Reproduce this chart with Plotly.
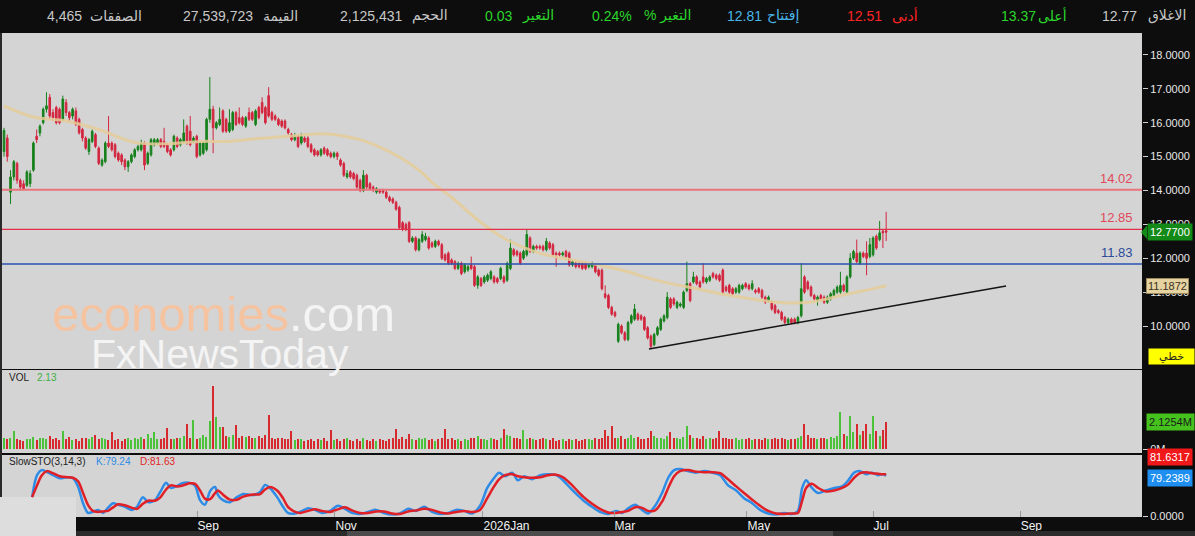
import plotly.graph_objects as go

# ---------------- data ----------------
opens = [
    15.15, 15.55, 13.95, 14.4, 14.8, 14.3, 14.2, 14.15, 14.2, 14.6,
    15.6, 15.7, 16.0, 16.4, 16.75, 16.3, 16.45, 16.4, 16.1, 16.6,
    16.3, 16.2, 16.35, 16.1, 15.8, 15.55, 15.15, 15.45, 15.65, 15.25,
    14.75, 14.85, 15.4, 15.4, 15.35, 15.1, 15.05, 14.9, 14.7, 14.85,
    15.0, 15.2, 15.2, 15.4, 14.8, 15.05, 15.35, 15.4, 15.5, 15.45,
    15.35, 15.2, 15.2, 15.55, 15.35, 15.45, 15.9, 15.75, 15.45, 15.6,
    15.05, 15.1, 15.2, 16.1, 16.4, 15.85, 15.95, 16.35, 16.1, 15.75,
    15.8, 16.3, 16.15, 16.15, 15.9, 16.3, 16.3, 15.95, 16.45, 16.6,
    16.45, 16.8, 16.3, 16.2, 16.1, 16.05, 16.05, 15.8, 15.65, 15.5,
    15.6, 15.4, 15.55, 15.55, 15.35, 15.2, 15.15, 15.05, 15.25, 15.2,
    15.1, 15.0, 15.1, 14.9, 14.8, 14.4, 14.55, 14.5, 14.45, 14.3,
    14.0, 14.45, 14.2, 14.1, 13.95, 14.0, 14.0, 13.95, 13.8, 13.75,
    13.65, 13.5, 13.05, 13.0, 13.05, 12.5, 12.6, 12.25, 12.5, 12.55,
    12.6, 12.45, 12.35, 12.5, 12.4, 12.1, 12.15, 11.95, 11.9, 11.7,
    11.85, 11.6, 11.65, 11.8, 11.75, 11.2, 11.4, 11.3, 11.35, 11.4,
    11.45, 11.4, 11.4, 11.45, 11.35, 11.7, 12.25, 12.2, 12.15, 12.0,
    12.1, 12.6, 12.2, 12.35, 12.35, 12.35, 12.25, 12.45, 12.4, 12.15,
    12.15, 12.1, 12.2, 12.15, 11.8, 11.85, 11.85, 11.85, 11.85, 11.75,
    11.75, 11.8, 11.65, 11.65, 10.95, 10.9, 10.55, 10.4, 9.55, 10.0,
    9.8, 9.6, 10.1, 10.2, 10.35, 10.3, 10.25, 9.95, 9.7, 9.45,
    9.75, 9.9, 10.15, 10.25, 10.8, 10.8, 10.55, 10.6, 10.55, 11.05,
    11.25, 11.3, 11.45, 11.3, 11.45, 11.3, 11.35, 11.55, 11.5, 11.5,
    11.65, 11.15, 11.2, 11.1, 11.0, 11.0, 11.1, 11.25, 11.2, 11.1,
    11.05, 11.1, 11.05, 10.85, 10.75, 10.7, 10.6, 10.45, 10.4, 10.25,
    10.1, 10.2, 10.2, 10.1, 10.3, 11.45, 11.3, 11.15, 10.9, 10.75,
    10.9, 10.85, 10.7, 10.8, 10.9, 11.0, 11.0, 11.2, 11.0, 11.45,
    12.0, 12.15, 11.85, 12.15, 12.15, 12.05, 12.1, 12.65, 12.55, 12.8,
    12.81,
]
highs = [
    15.85, 15.65, 14.6, 14.9, 14.85, 14.35, 14.3, 14.6, 14.6, 15.45,
    15.8, 15.95, 16.45, 16.9, 16.85, 16.4, 16.5, 16.45, 16.8, 16.7,
    16.35, 16.45, 16.45, 16.15, 15.85, 15.6, 15.55, 15.8, 15.7, 15.3,
    14.95, 15.45, 16.2, 15.45, 15.4, 15.15, 15.1, 14.95, 14.9, 15.1,
    15.25, 15.35, 15.5, 15.45, 15.15, 15.55, 15.55, 15.55, 15.55, 15.85,
    15.4, 15.25, 15.65, 15.6, 15.55, 16.1, 15.95, 16.2, 15.6, 15.65,
    15.45, 15.45, 16.15, 17.35, 16.5, 16.05, 16.45, 16.4, 16.15, 16.4,
    16.35, 16.35, 16.45, 16.2, 16.2, 16.45, 16.35, 16.4, 16.5, 16.75,
    16.5, 17.05, 16.35, 16.25, 16.15, 16.1, 16.1, 15.85, 15.7, 15.7,
    15.65, 15.7, 15.6, 15.6, 15.4, 15.25, 15.2, 15.25, 15.3, 15.25,
    15.15, 15.15, 15.15, 14.95, 14.85, 14.6, 14.6, 14.55, 14.5, 14.35,
    14.6, 14.5, 14.25, 14.15, 14.1, 14.05, 14.05, 14.0, 13.85, 13.8,
    13.7, 13.55, 13.1, 13.05, 13.1, 12.65, 12.65, 12.6, 12.8, 12.75,
    12.65, 12.5, 12.55, 12.55, 12.45, 12.15, 12.2, 12.0, 11.95, 11.9,
    11.9, 11.85, 11.8, 12.05, 11.8, 11.5, 11.45, 11.5, 11.55, 11.65,
    11.5, 11.45, 11.75, 11.5, 11.9, 12.55, 12.3, 12.25, 12.2, 12.25,
    12.85, 12.65, 12.4, 12.4, 12.4, 12.4, 12.6, 12.5, 12.45, 12.2,
    12.2, 12.2, 12.25, 12.2, 11.95, 11.9, 11.9, 11.9, 11.9, 11.85,
    11.9, 11.85, 11.7, 11.7, 11.2, 10.95, 10.6, 10.45, 10.1, 10.05,
    9.85, 10.15, 10.35, 10.65, 10.4, 10.35, 10.3, 10.0, 9.75, 9.8,
    10.0, 10.25, 10.35, 11.0, 10.85, 10.85, 10.75, 10.7, 11.05, 11.9,
    11.3, 11.6, 11.5, 11.35, 11.85, 11.45, 11.5, 11.6, 11.55, 11.55,
    11.7, 11.2, 11.25, 11.15, 11.15, 11.25, 11.25, 11.3, 11.25, 11.35,
    11.1, 11.15, 11.1, 10.9, 10.9, 10.75, 10.65, 10.5, 10.45, 10.3,
    10.25, 10.25, 10.25, 10.3, 11.85, 11.5, 11.35, 11.2, 10.95, 10.9,
    10.95, 10.9, 10.9, 11.0, 11.1, 11.2, 11.6, 11.25, 11.5, 12.15,
    12.25, 12.55, 12.2, 12.2, 12.5, 12.6, 12.65, 12.7, 13.1, 12.85,
    13.37,
]
lows = [
    15.0, 14.85, 13.6, 14.3, 14.2, 14.0, 14.0, 14.1, 14.1, 14.55,
    15.4, 15.6, 15.95, 16.3, 16.1, 16.05, 15.95, 15.95, 16.05, 16.2,
    16.05, 16.1, 15.9, 15.65, 15.45, 15.2, 15.05, 15.4, 15.25, 14.75,
    14.7, 14.8, 15.25, 15.15, 14.95, 14.85, 14.75, 14.6, 14.55, 14.8,
    14.95, 15.15, 15.15, 14.6, 14.75, 15.0, 15.3, 15.35, 15.25, 15.25,
    15.1, 15.0, 15.15, 15.25, 15.3, 15.4, 15.35, 15.3, 15.4, 14.95,
    15.0, 15.05, 15.15, 16.0, 15.1, 15.8, 15.9, 15.7, 15.7, 15.7,
    15.75, 15.9, 15.95, 15.9, 15.85, 16.05, 16.05, 15.9, 16.1, 16.25,
    15.95, 16.15, 16.05, 16.05, 15.9, 15.85, 15.8, 15.65, 15.45, 15.45,
    15.25, 15.35, 15.4, 15.25, 15.1, 15.0, 15.0, 15.0, 15.05, 15.0,
    14.95, 14.95, 14.9, 14.7, 14.4, 14.35, 14.35, 14.3, 14.05, 13.95,
    13.95, 14.05, 14.0, 13.95, 13.9, 13.9, 13.9, 13.75, 13.65, 13.6,
    13.4, 12.85, 12.8, 12.8, 12.45, 12.45, 12.2, 12.2, 12.45, 12.5,
    12.25, 12.3, 12.3, 12.35, 11.95, 11.9, 11.8, 11.8, 11.65, 11.65,
    11.5, 11.55, 11.6, 11.65, 11.15, 11.1, 11.15, 11.25, 11.3, 11.35,
    11.25, 11.25, 11.35, 11.25, 11.3, 11.65, 12.05, 12.05, 11.8, 11.95,
    12.05, 12.15, 12.15, 12.25, 12.25, 12.2, 12.2, 12.25, 12.05, 11.75,
    12.05, 12.05, 12.0, 11.75, 11.75, 11.7, 11.7, 11.65, 11.65, 11.7,
    11.7, 11.55, 11.45, 11.05, 10.8, 10.5, 10.3, 10.25, 9.5, 9.75,
    9.55, 9.55, 10.05, 10.15, 10.15, 10.15, 9.85, 9.6, 9.35, 9.4,
    9.7, 9.85, 10.1, 10.2, 10.5, 10.6, 10.5, 10.55, 10.5, 11.0,
    10.7, 11.25, 11.2, 11.1, 11.25, 11.25, 11.3, 11.4, 11.35, 11.3,
    10.95, 11.0, 10.95, 10.9, 10.95, 10.95, 11.05, 11.1, 11.05, 11.05,
    10.95, 10.95, 10.8, 10.65, 10.7, 10.45, 10.35, 10.35, 10.15, 10.05,
    10.05, 10.05, 10.05, 10.05, 10.25, 10.95, 11.05, 10.85, 10.75, 10.6,
    10.75, 10.65, 10.65, 10.75, 10.85, 10.95, 10.95, 11.0, 10.95, 11.4,
    11.95, 11.85, 11.8, 12.0, 11.5, 12.0, 12.05, 12.25, 12.5, 12.3,
    12.51,
]
closes = [
    15.77, 15.0, 14.4, 14.85, 14.3, 14.1, 14.05, 14.55, 14.5, 15.4,
    15.5, 15.9, 16.4, 16.5, 16.2, 16.15, 16.0, 16.0, 16.7, 16.3,
    16.15, 16.4, 15.95, 15.7, 15.55, 15.25, 15.5, 15.75, 15.3, 14.8,
    14.9, 15.4, 15.3, 15.2, 15.0, 14.9, 14.85, 14.7, 14.85, 15.05,
    15.2, 15.3, 15.4, 14.75, 15.1, 15.5, 15.5, 15.5, 15.3, 15.3,
    15.15, 15.05, 15.6, 15.3, 15.5, 15.7, 15.4, 15.35, 15.55, 15.0,
    15.4, 15.4, 16.1, 16.4, 15.85, 16.0, 16.1, 15.75, 15.75, 16.0,
    16.3, 15.95, 16.0, 15.95, 16.15, 16.1, 16.1, 16.35, 16.15, 16.3,
    16.0, 16.2, 16.1, 16.1, 15.95, 15.9, 15.85, 15.7, 15.5, 15.6,
    15.3, 15.6, 15.45, 15.3, 15.15, 15.05, 15.05, 15.2, 15.1, 15.05,
    15.0, 15.1, 15.0, 14.75, 14.45, 14.5, 14.4, 14.35, 14.1, 14.0,
    14.45, 14.1, 14.05, 14.05, 14.05, 13.95, 13.95, 13.8, 13.7, 13.65,
    13.45, 12.9, 12.85, 12.85, 12.5, 12.6, 12.25, 12.55, 12.7, 12.65,
    12.3, 12.35, 12.5, 12.4, 12.0, 11.95, 11.85, 11.85, 11.7, 11.85,
    11.55, 11.8, 11.75, 11.7, 11.2, 11.45, 11.2, 11.45, 11.5, 11.6,
    11.3, 11.3, 11.7, 11.3, 11.85, 12.3, 12.1, 12.1, 11.85, 12.2,
    12.7, 12.2, 12.35, 12.3, 12.3, 12.25, 12.5, 12.3, 12.1, 12.1,
    12.1, 12.15, 12.05, 11.8, 11.9, 11.75, 11.75, 11.7, 11.7, 11.8,
    11.85, 11.6, 11.5, 11.1, 10.85, 10.55, 10.35, 10.3, 10.05, 9.8,
    9.6, 10.1, 10.3, 10.5, 10.2, 10.2, 9.9, 9.65, 9.4, 9.75,
    9.95, 10.2, 10.3, 10.85, 10.55, 10.65, 10.7, 10.65, 11.0, 11.25,
    10.75, 11.45, 11.25, 11.15, 11.3, 11.4, 11.45, 11.45, 11.4, 11.35,
    11.0, 11.05, 11.0, 10.95, 11.1, 11.2, 11.2, 11.15, 11.1, 11.25,
    11.0, 11.0, 10.85, 10.7, 10.85, 10.5, 10.4, 10.4, 10.2, 10.1,
    10.2, 10.1, 10.1, 10.25, 11.1, 11.0, 11.1, 10.9, 10.8, 10.85,
    10.8, 10.7, 10.85, 10.95, 11.05, 11.15, 11.2, 11.05, 11.45, 12.0,
    12.2, 11.9, 12.15, 12.05, 12.0, 12.4, 12.6, 12.3, 12.75, 12.75,
    12.77,
]
volume_m = [
    0.85, 0.75, 0.9, 1.4, 0.8, 0.7, 0.65, 0.75, 0.8, 0.95,
    0.7, 0.85, 0.9, 0.75, 1.0, 0.8, 0.85, 0.7, 1.4, 0.75,
    0.95, 0.7, 0.8, 0.65, 0.9, 0.85, 0.75, 0.95, 1.1, 0.8,
    0.9, 0.75, 0.7, 1.35, 0.7, 0.8, 0.65, 0.75, 0.9, 0.7,
    0.85, 0.8, 0.95, 0.75, 1.2, 0.85, 1.35, 0.75, 0.8, 0.9,
    1.65, 0.8, 0.75, 0.85, 0.9, 1.0, 1.95, 0.85, 2.25, 0.8,
    0.9, 1.1, 0.95, 2.2, 5.0, 2.5, 1.7, 1.7, 1.0, 0.95,
    1.1, 1.9, 0.9, 1.0, 0.95, 1.05, 0.9, 0.85, 1.0, 0.9,
    1.1, 2.7, 0.9, 0.8, 0.85, 0.9, 0.75, 0.8, 1.4, 0.7,
    0.8, 0.75, 0.65, 0.7, 0.8, 0.6, 0.75, 0.7, 0.85, 0.65,
    1.5, 0.7, 0.8, 0.65, 0.75, 0.9, 0.7, 0.6, 0.75, 0.65,
    0.85, 0.7, 0.6, 0.75, 0.65, 0.8, 0.7, 0.6, 0.75, 0.85,
    1.6, 0.8, 0.95, 0.75, 1.2, 0.8, 0.7, 0.9, 0.75, 0.85,
    0.7, 0.8, 0.65, 0.75, 0.9, 1.6, 0.75, 0.85, 0.7, 0.8,
    0.65, 0.75, 0.7, 0.85, 0.9, 1.0, 0.75, 0.8, 0.7, 0.85,
    0.75, 0.7, 0.9, 1.6, 1.1, 1.0, 0.85, 0.9, 0.75, 1.5,
    0.8, 0.85, 0.75, 0.7, 0.8, 0.9, 0.75, 0.7, 0.85, 0.65,
    0.7, 0.75, 0.65, 0.8, 0.7, 0.75, 0.65, 0.7, 0.8, 0.75,
    0.7, 0.85, 0.8, 0.9, 1.5, 1.0, 1.85, 0.9, 0.85, 1.0,
    0.8, 0.9, 1.1, 0.85, 0.95, 0.75, 0.8, 0.9, 1.4, 1.0,
    0.85, 0.9, 0.8, 1.0, 1.3, 0.9, 0.85, 0.8, 0.95, 1.85,
    1.1, 0.9, 0.85, 0.8, 1.0, 0.75, 0.85, 0.8, 0.9, 1.4,
    0.9, 0.85, 0.8, 0.75, 0.85, 0.7, 0.8, 0.75, 0.85, 0.7,
    0.75, 0.8, 0.7, 0.85, 0.75, 0.8, 0.9, 0.75, 0.85, 0.8,
    0.7, 0.75, 0.8, 0.9, 1.0, 2.0, 1.1, 0.9, 0.85, 0.8,
    0.9, 0.85, 0.8, 0.95, 0.9, 1.0, 2.9, 1.2, 1.0, 2.6,
    1.3, 1.95, 1.1, 1.4, 2.0, 1.2, 2.6, 1.4, 1.0, 1.5,
    2.1254,
]

# 50-day moving average (read at sample candles)
ma_idx = [0, 9, 19, 29, 40, 50, 60, 69, 76, 87, 95, 102, 109, 115, 121, 127, 132,
          137, 145, 154, 164, 174, 182, 191, 197, 204, 211, 221, 231, 240, 247, 257, 264, 270]
ma_val = [16.5, 16.17, 16.05, 15.8, 15.42, 15.38, 15.45, 15.45, 15.52, 15.6, 15.67, 15.64,
          15.5, 15.28, 14.99, 14.6, 14.16, 13.8, 13.13, 12.54, 12.15, 11.95, 11.8, 11.6,
          11.42, 11.25, 11.12, 10.92, 10.77, 10.68, 10.71, 10.92, 11.06, 11.1872]

# Slow stochastic (3,14,3)
sto_idx = [8.6, 10.1, 11.6, 13.2, 15.0, 17.1, 19.3, 21.1, 22.7, 24.2,
           25.7, 27.2, 28.8, 30.3, 31.8, 33.4, 34.9, 37.0, 39.2, 40.7,
           42.5, 44.1, 46.2, 47.8, 49.6, 51.1, 53.0, 54.8, 56.9, 58.5,
           60.0, 61.5, 63.1, 64.6, 65.5, 67.0, 69.2, 71.3, 73.2, 76.2,
           78.4, 79.9, 81.4, 83.6, 85.4, 86.9, 89.1, 90.6, 93.1, 95.2,
           97.3, 99.8, 102.2, 104.4, 106.5, 109.0, 111.4, 113.9, 116.3, 118.8,
           121.2, 123.7, 126.1, 128.6, 131.0, 133.5, 135.9, 138.4, 140.8, 143.3,
           145.7, 147.9, 149.7, 151.5, 153.4, 155.5, 157.3, 159.2, 161.6, 164.1,
           166.5, 169.0, 171.1, 173.3, 175.7, 177.8, 180.0, 182.4, 184.9, 187.3,
           189.2, 191.0, 193.2, 195.3, 197.1, 199.3, 201.4, 203.3, 205.1, 206.9,
           209.4, 211.8, 214.3, 216.7, 219.2, 221.6, 224.1, 226.5, 229.0, 231.4,
           233.9, 236.3, 238.8, 241.2, 243.0, 244.3, 245.5, 247.3, 249.2, 251.6,
           254.1, 256.5, 258.4, 260.2, 262.0, 263.9, 265.7, 267.5, 268.8, 270.0]
k_vals = [37, 80, 90, 86, 80, 74, 76, 74, 57, 25,
          6, 8, 12, 6, 16, 25, 22, 18, 12, 18,
          37, 27, 31, 47, 65, 55, 59, 65, 65, 59,
          31, 22, 49, 57, 41, 31, 27, 37, 43, 41,
          47, 61, 55, 37, 18, 6, 5, 8, 15, 12,
          6, 10, 20, 14, 6, 4, 8, 12, 6, 3,
          5, 14, 10, 18, 8, 4, 6, 12, 10, 5,
          20, 55, 72, 85, 78, 85, 70, 78, 72, 80,
          82, 80, 70, 55, 40, 28, 18, 8, 4, 10,
          6, 15, 22, 12, 5, 20, 45, 75, 90, 92,
          88, 85, 88, 85, 80, 60, 50, 35, 25, 12,
          5, 3, 6, 4, 10, 55, 70, 55, 45, 50,
          55, 58, 70, 85, 88, 82, 85, 80, 82, 79.24]
d_vals = [37, 60, 80, 88, 84, 78, 76, 75, 68, 45,
          22, 10, 8, 9, 10, 17, 23, 21, 16, 14,
          24, 30, 30, 36, 52, 60, 58, 60, 64, 63,
          50, 34, 33, 45, 50, 42, 32, 32, 38, 42,
          43, 52, 57, 50, 35, 18, 8, 6, 10, 13,
          10, 8, 13, 17, 11, 6, 6, 9, 9, 5,
          4, 9, 11, 14, 12, 7, 5, 8, 10, 8,
          12, 35, 55, 72, 80, 82, 78, 76, 75, 76,
          80, 81, 76, 64, 48, 35, 24, 14, 7, 6,
          8, 10, 17, 16, 10, 11, 28, 55, 78, 88,
          90, 87, 86, 86, 84, 72, 58, 45, 32, 20,
          10, 5, 4, 5, 6, 30, 55, 63, 55, 48,
          50, 55, 62, 75, 84, 86, 84, 83, 82, 81.63]

# horizontal levels and drawn trend line
levels = [14.02, 12.85, 11.83]
level_colors = ['#e8767c', '#e0304a', '#2a52b0']
level_text_colors = ['#e0485a', '#e0485a', '#2a4a9a']
level_widths = [2, 1.2, 1.6]
trend_x = [197.4, 306.7]
trend_y = [9.32, 11.18]

# x-axis month labels (trading-day index of month start)
month_pos = [59.1, 101.3, 146.6, 186.7, 227.4, 266.0, 311.0]
month_labels = ['Sep', 'Nov', '2026Jan', 'Mar', 'May', 'Jul', 'Sep']
price_ticks = [10, 11, 12, 13, 14, 15, 16, 17, 18]

# header bar (label, value, colour)
bar_items = [
    ('الاغلاق', '12.77', '#c8c8c8'),
    ('أعلى', '13.37', '#2bd62b'),
    ('أدنى', '12.51', '#ff2424'),
    ('إفتتاح', '12.81', '#49b6e6'),
    ('% التغير', '0.24%', '#2bd62b'),
    ('التغير', '0.03', '#2bd62b'),
    ('الحجم', '2,125,431', '#c8c8c8'),
    ('القيمة', '27,539,723', '#c8c8c8'),
    ('الصفقات', '4,465', '#c8c8c8'),
]

# ---------------- layout helpers ----------------
W, H = 1195, 536
ML, MR, MT, MB = 0, 53, 33, 19
PW = W - ML - MR
PH = H - MT - MB


def fx(px):
    return (px - ML) / PW


def fy(py):
    return (H - MB - py) / PH


N = len(closes)
idx = list(range(N))
UP, DOWN = '#17801c', '#d3263f'
VUP, VDOWN = '#4cc23a', '#d62a2e'
vol_colors = [VUP if c >= o else VDOWN for o, c in zip(opens, closes)]

FONT = 'Liberation Sans, DejaVu Sans, sans-serif'

fig = go.Figure()
fig.add_trace(go.Candlestick(
    x=idx, open=opens, high=highs, low=lows, close=closes,
    increasing=dict(line=dict(color=UP, width=1), fillcolor=UP),
    decreasing=dict(line=dict(color=DOWN, width=1), fillcolor=DOWN),
    whiskerwidth=0, hoverinfo='skip', xaxis='x', yaxis='y'))
fig.add_trace(go.Scatter(
    x=ma_idx, y=ma_val, mode='lines', hoverinfo='skip',
    line=dict(color='rgba(228,204,152,0.85)', width=3, shape='spline', smoothing=1.0),
    xaxis='x', yaxis='y'))
fig.add_trace(go.Scatter(
    x=trend_x, y=trend_y, mode='lines', hoverinfo='skip',
    line=dict(color='#141414', width=1.5), xaxis='x', yaxis='y'))
fig.add_trace(go.Bar(
    x=idx, y=volume_m, marker=dict(color=vol_colors, line=dict(width=0)),
    width=0.38, hoverinfo='skip', xaxis='x', yaxis='y2'))
fig.add_trace(go.Scatter(
    x=sto_idx, y=k_vals, mode='lines', hoverinfo='skip',
    line=dict(color='#2f8ce6', width=2.5, shape='spline', smoothing=0.8),
    xaxis='x', yaxis='y3'))
fig.add_trace(go.Scatter(
    x=sto_idx, y=d_vals, mode='lines', hoverinfo='skip',
    line=dict(color='#e01f26', width=2.5, shape='spline', smoothing=0.8),
    xaxis='x', yaxis='y3'))

axis_font = dict(color='#e8e8e8', size=11, family=FONT)
common_y = dict(side='right', anchor='x', showgrid=False, zeroline=False, showline=False,
                ticks='outside', ticklen=5, tickcolor='#cfcfcf', tickfont=axis_font,
                fixedrange=True)

shapes = []
for lv, col, w in zip(levels, level_colors, level_widths):
    shapes.append(dict(type='line', xref='paper', yref='y', x0=0, x1=1, y0=lv, y1=lv,
                       line=dict(color=col, width=w)))
# left border, bottom-left patch, scrollbar
shapes.append(dict(type='rect', xref='paper', yref='paper', x0=fx(0), x1=fx(76),
                   y0=fy(536), y1=fy(497), fillcolor='#dddddd', line=dict(width=0), layer='below'))
shapes.append(dict(type='rect', xref='paper', yref='paper', x0=fx(0), x1=fx(2),
                   y0=fy(497), y1=fy(33), fillcolor='#2a2a2a', line=dict(width=0)))
shapes.append(dict(type='rect', xref='paper', yref='paper', x0=fx(76), x1=fx(1195),
                   y0=fy(536), y1=fy(531), fillcolor='#2c2c2c', line=dict(width=0)))
shapes.append(dict(type='rect', xref='paper', yref='paper', x0=fx(347), x1=fx(833),
                   y0=fy(536), y1=fy(531), fillcolor='#4c4c4c', line=dict(width=0)))
# pointer of last-price tag
lc = closes[-1]
shapes.append(dict(type='path', xref='paper', yref='y',
                   path=f'M {fx(1141)},{lc} L {fx(1147)},{lc + 0.2} L {fx(1147)},{lc - 0.2} Z',
                   fillcolor='#138a17', line=dict(width=0)))

ann = []
# header bar
hx = [(1167, 1119), (1052, 1018), (905, 864), (783, 744), (667, 612),
      (538, 498), (430, 371), (280, 218), (116, 64)]
for (lab, val, col), (lx, vx) in zip(bar_items, hx):
    ann.append(dict(xref='paper', yref='paper', x=fx(lx), y=fy(16), text=lab, showarrow=False,
                    xanchor='center', yanchor='middle', font=dict(color=col, size=14, family=FONT)))
    ann.append(dict(xref='paper', yref='paper', x=fx(vx), y=fy(16), text=val, showarrow=False,
                    xanchor='center', yanchor='middle', font=dict(color=col, size=14, family=FONT)))

# level labels
for lv, tc in zip(levels, level_text_colors):
    ann.append(dict(xref='paper', yref='y', x=fx(1135), y=lv, text=f'{lv:.2f}', showarrow=False,
                    xanchor='right', yanchor='bottom', yshift=2,
                    font=dict(color=tc, size=13, family=FONT)))

# panel legends
small = 10
ann += [
    dict(xref='paper', yref='paper', x=fx(7), y=fy(377), text='VOL', showarrow=False,
         xanchor='left', yanchor='middle', font=dict(color='#222', size=small, family=FONT)),
    dict(xref='paper', yref='paper', x=fx(35), y=fy(377), text=f'{volume_m[-1]:.2f}', showarrow=False,
         xanchor='left', yanchor='middle', font=dict(color='#3cb043', size=small, family=FONT)),
    dict(xref='paper', yref='paper', x=fx(7), y=fy(461), text='SlowSTO(3,14,3)', showarrow=False,
         xanchor='left', yanchor='middle', font=dict(color='#222', size=small, family=FONT)),
    dict(xref='paper', yref='paper', x=fx(94), y=fy(461), text=f'K:{k_vals[-1]:.2f}', showarrow=False,
         xanchor='left', yanchor='middle', font=dict(color='#2f8ce6', size=small, family=FONT)),
    dict(xref='paper', yref='paper', x=fx(138), y=fy(461), text=f'D:{d_vals[-1]:.2f}', showarrow=False,
         xanchor='left', yanchor='middle', font=dict(color='#e01f26', size=small, family=FONT)),
]

# right-side value tags
tagfont = dict(size=11, family=FONT)
ann += [
    dict(xref='paper', yref='y', x=fx(1147), y=lc, text=f'{lc:.4f}', showarrow=False,
         xanchor='left', yanchor='middle', bgcolor='#138a17', borderpad=2,
         font=dict(color='#ffffff', **tagfont)),
    dict(xref='paper', yref='y', x=fx(1146), y=ma_val[-1], text=f'{ma_val[-1]:.4f}', showarrow=False,
         xanchor='left', yanchor='middle', bgcolor='#e6d3a2', bordercolor='#9c8a5c', borderwidth=1,
         borderpad=1, font=dict(color='#3a3020', **tagfont)),
    dict(xref='paper', yref='paper', x=fx(1148), y=fy(356), text='خطي', showarrow=False,
         xanchor='left', yanchor='middle', bgcolor='#ffff00', width=43, borderpad=1,
         font=dict(color='#222', size=11, family='DejaVu Sans, sans-serif')),
    dict(xref='paper', yref='y2', x=fx(1146), y=volume_m[-1], text=f'{volume_m[-1]:.4f}M', showarrow=False,
         xanchor='left', yanchor='middle', bgcolor='#46c21e', borderpad=2,
         font=dict(color='#1a1a1a', **tagfont)),
    dict(xref='paper', yref='paper', x=fx(1147), y=fy(457), text='81.6317', showarrow=False,
         xanchor='left', yanchor='middle', bgcolor='#f01818', borderpad=2,
         font=dict(color='#ffffff', **tagfont)),
    dict(xref='paper', yref='paper', x=fx(1147), y=fy(478), text='79.2389', showarrow=False,
         xanchor='left', yanchor='middle', bgcolor='#1e8ff0', borderpad=2,
         font=dict(color='#ffffff', **tagfont)),
]

# watermark
ann += [
    dict(xref='paper', yref='paper', x=fx(50), y=fy(314), showarrow=False,
         xanchor='left', yanchor='middle',
         text='<span style="color:#f6c3a0">economies</span><span style="color:#f4f4f4">.com</span>',
         font=dict(color='#f4f4f4', size=49, family=FONT)),
    dict(xref='paper', yref='paper', x=fx(89), y=fy(354), showarrow=False,
         xanchor='left', yanchor='middle', text='FxNewsToday',
         font=dict(color='#f4f4f4', size=41, family=FONT)),
]

fig.update_layout(
    width=W, height=H, margin=dict(l=ML, r=MR, t=MT, b=MB, pad=0),
    paper_bgcolor='#0d0d0d', plot_bgcolor='#d4d4d4',
    showlegend=False, bargap=0, hovermode=False,
    xaxis=dict(domain=[0, 1], range=[-1.224, 348.3], anchor='y3', showgrid=False,
               zeroline=False, showline=False, rangeslider=dict(visible=False),
               tickvals=month_pos, ticktext=month_labels, ticks='inside', ticklen=6,
               tickcolor='#9a9a9a', ticklabelposition='outside right', fixedrange=True,
               tickfont=dict(color='#f2f2f2', size=12,
                             family='Liberation Sans Narrow, Liberation Sans, sans-serif')),
    yaxis=dict(domain=[fy(369), 1], range=[8.731, 18.649], tickvals=price_ticks,
               ticktext=[f'{v:.4f}' for v in price_ticks], **common_y),
    yaxis2=dict(domain=[fy(453), fy(370)], range=[-0.315, 6.22], tickvals=[0],
                ticktext=['0M'], **common_y),
    yaxis3=dict(domain=[0, fy(455)], range=[-1.96, 119.6], tickvals=[0],
                ticktext=['0.0000'], **common_y),
    shapes=shapes, annotations=ann,
)

fig.write_html('out.html', config={'displayModeBar': False})
